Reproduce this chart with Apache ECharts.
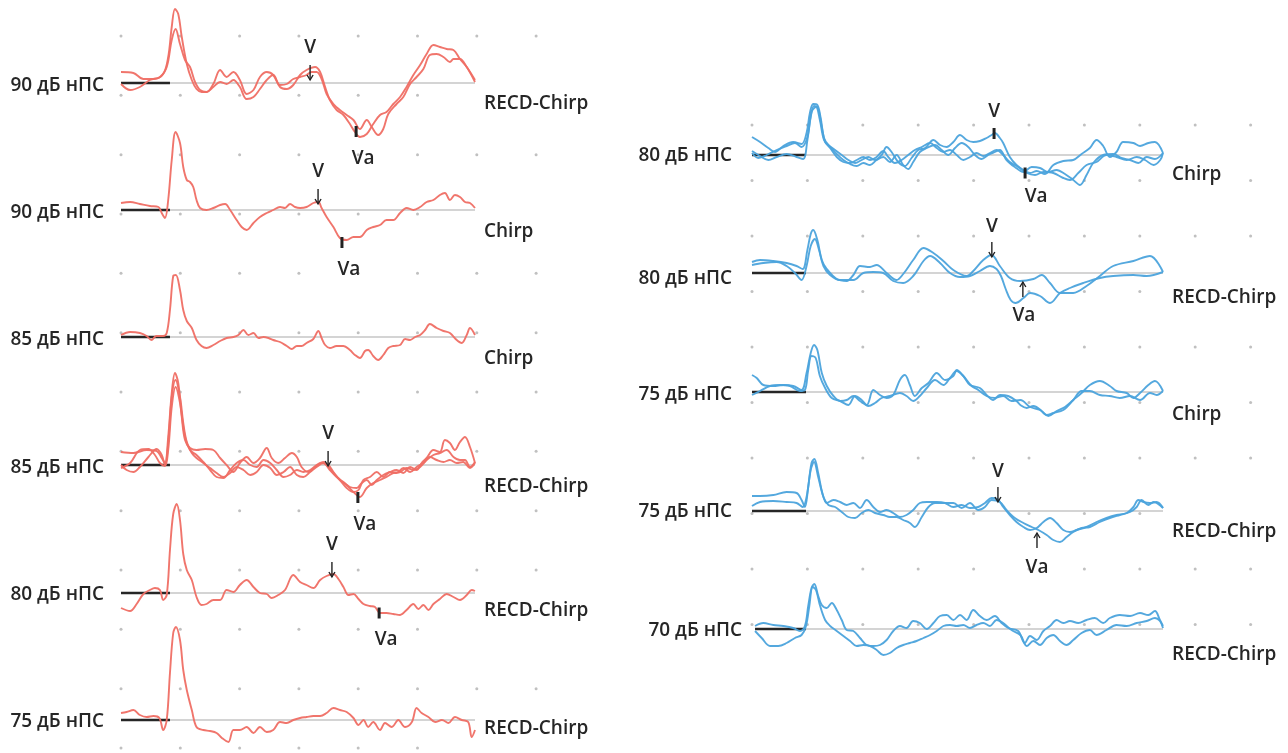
<!DOCTYPE html>
<html><head><meta charset="utf-8">
<script src="https://cdn.jsdelivr.net/npm/echarts@6/dist/echarts.min.js"></script>
<style>html,body{margin:0;padding:0;background:#fff}#c{width:1288px;height:753px}</style>
</head><body><div id="c"></div><script>
// ---------- labels ----------
const leftLevels = ['90 дБ нПС','90 дБ нПС','85 дБ нПС','85 дБ нПС','80 дБ нПС','75 дБ нПС'];
const leftStimuli = ['RECD-Chirp','Chirp','Chirp','RECD-Chirp','RECD-Chirp','RECD-Chirp'];
const rightLevels = ['80 дБ нПС','80 дБ нПС','75 дБ нПС','75 дБ нПС','70 дБ нПС'];
const rightStimuli = ['Chirp','RECD-Chirp','Chirp','RECD-Chirp','RECD-Chirp'];

// ---------- time windows (ms) ----------
const leftWindow = [0, 12.0];
const leftStimOnset = 1.66;
const rightWindow = [0, 14.84];
const rightStimOnset = 1.95;
const rightSweepStart = [0, 0, 0, 0, 0.11];

// ---------- waveforms [ms, µV] ----------
const L1a = [[0,0.11],[0.42,0.10],[0.76,0.04],[1.1,0.04],[1.43,0.09],[1.6,0.26],[1.72,0.56],[1.83,0.74],[1.94,0.69],[2.06,0.46],[2.23,0.19],[2.4,0.03],[2.56,-0.06],[2.73,-0.09],[2.9,-0.09],[3.13,-0.01],[3.36,0.13],[3.58,0.06],[3.81,0.11],[4.03,0.03],[4.26,-0.11],[4.49,-0.07],[4.71,0.06],[4.94,0.11],[5.16,0.08],[5.39,-0.04],[5.62,-0.06],[5.84,-0.02],[6.07,0.08],[6.29,0.13],[6.58,0.16],[6.75,0.11],[6.92,-0.04],[7.08,-0.17],[7.31,-0.27],[7.54,-0.32],[7.76,-0.41],[7.93,-0.49],[8.1,-0.54],[8.33,-0.51],[8.55,-0.41],[8.78,-0.32],[9.0,-0.29],[9.23,-0.21],[9.46,-0.14],[9.68,-0.04],[9.91,0.08],[10.14,0.18],[10.36,0.29],[10.59,0.38],[10.81,0.36],[11.04,0.34],[11.27,0.33],[11.49,0.24],[11.72,0.16],[12.0,0.01]];
const L1b = [[0,-0.01],[0.31,-0.07],[0.64,-0.04],[0.98,0.03],[1.32,0.06],[1.55,0.16],[1.72,0.43],[1.85,0.54],[2.0,0.39],[2.17,0.23],[2.34,0.16],[2.51,0.01],[2.68,-0.07],[2.9,-0.09],[3.13,-0.04],[3.36,0.01],[3.58,-0.01],[3.81,0.03],[4.03,-0.04],[4.26,-0.16],[4.49,-0.14],[4.71,-0.06],[4.94,0.03],[5.16,0.08],[5.39,-0.02],[5.62,-0.01],[5.84,0.04],[6.07,0.06],[6.29,0.08],[6.46,0.11],[6.63,0.11],[6.8,0.04],[6.97,-0.11],[7.2,-0.21],[7.42,-0.27],[7.65,-0.32],[7.88,-0.37],[8.1,-0.46],[8.33,-0.37],[8.5,-0.44],[8.72,-0.52],[8.89,-0.46],[9.06,-0.31],[9.34,-0.21],[9.57,-0.14],[9.8,-0.01],[10.02,0.06],[10.25,0.14],[10.47,0.28],[10.7,0.29],[10.93,0.26],[11.15,0.21],[11.27,0.24],[11.49,0.24],[11.72,0.16],[12.0,0.03]];
const L2a = [[0,0.07],[0.31,0.08],[0.64,0.06],[0.98,0.04],[1.27,0.03],[1.38,-0.03],[1.49,-0.08],[1.6,0.1],[1.72,0.5],[1.85,0.78],[2.0,0.67],[2.11,0.43],[2.23,0.3],[2.34,0.28],[2.45,0.23],[2.56,0.1],[2.68,0.02],[2.9,0],[3.13,0.02],[3.36,0.05],[3.53,0.06],[3.7,0],[3.92,-0.1],[4.09,-0.17],[4.26,-0.2],[4.49,-0.13],[4.71,-0.07],[4.94,-0.03],[5.16,0],[5.39,0.03],[5.56,0.02],[5.73,0.06],[5.9,0.03],[6.07,0.02],[6.29,0.03],[6.52,0.07],[6.69,0.08],[6.8,0.02],[6.97,-0.07],[7.2,-0.17],[7.42,-0.28],[7.65,-0.3],[7.88,-0.27],[8.1,-0.27],[8.33,-0.2],[8.55,-0.17],[8.78,-0.15],[9.0,-0.1],[9.23,-0.1],[9.46,-0.03],[9.68,0.02],[9.91,0],[10.14,0.03],[10.36,0.08],[10.59,0.1],[10.81,0.15],[10.98,0.17],[11.15,0.1],[11.32,0.15],[11.49,0.13],[11.66,0.08],[11.83,0.07],[12.0,0.02]];
const L3a = [[0,0.02],[0.31,0.05],[0.64,0.04],[0.87,0.01],[1.03,-0.03],[1.2,0.01],[1.43,0.01],[1.55,0.04],[1.66,0.27],[1.77,0.61],[1.86,0.62],[2.0,0.47],[2.11,0.27],[2.23,0.16],[2.4,0.09],[2.56,-0.03],[2.73,-0.09],[2.9,-0.11],[3.13,-0.08],[3.36,-0.04],[3.58,-0.01],[3.81,0],[3.98,0.02],[4.15,0.07],[4.32,0.02],[4.49,0.04],[4.66,-0.01],[4.83,0],[5.0,-0.01],[5.16,-0.03],[5.39,-0.05],[5.62,-0.09],[5.79,-0.12],[5.96,-0.09],[6.12,-0.09],[6.29,-0.06],[6.52,-0.02],[6.69,0.06],[6.8,-0.01],[6.92,-0.08],[7.08,-0.11],[7.31,-0.09],[7.54,-0.09],[7.76,-0.13],[7.93,-0.18],[8.1,-0.21],[8.27,-0.14],[8.38,-0.13],[8.55,-0.19],[8.72,-0.23],[8.89,-0.18],[9.06,-0.11],[9.23,-0.09],[9.46,-0.08],[9.63,-0.02],[9.8,-0.03],[9.97,0],[10.14,0.02],[10.31,0.07],[10.47,0.13],[10.7,0.09],[10.93,0.06],[11.15,0.04],[11.38,-0.03],[11.55,-0.06],[11.72,0.02],[11.83,0.09],[12.0,0.02]];
const L4a = [[0,0.13],[0.42,0.12],[0.87,0.15],[1.21,0.14],[1.38,0.07],[1.49,0.02],[1.6,0.28],[1.72,0.72],[1.83,0.92],[1.94,0.82],[2.06,0.48],[2.17,0.25],[2.34,0.17],[2.56,0.15],[2.85,0.16],[3.13,0.15],[3.36,0.07],[3.58,0],[3.81,-0.07],[4.03,0.02],[4.26,0.08],[4.49,0.02],[4.71,0.07],[4.94,0.17],[5.11,0.07],[5.33,0.02],[5.56,0.07],[5.79,0.12],[5.96,0.08],[6.12,-0.02],[6.35,-0.07],[6.58,-0.02],[6.8,0.02],[7.03,0],[7.2,-0.07],[7.42,-0.15],[7.65,-0.2],[7.88,-0.27],[8.1,-0.32],[8.33,-0.23],[8.55,-0.18],[8.78,-0.15],[9.0,-0.12],[9.23,-0.08],[9.46,-0.07],[9.68,-0.03],[9.91,-0.05],[10.14,-0.02],[10.36,0.05],[10.59,0.1],[10.81,0.12],[11.04,0.15],[11.27,0.08],[11.49,0.05],[11.66,0.05],[11.83,-0.02],[12.0,0.03]];
const L4b = [[0,0],[0.19,-0.05],[0.42,-0.07],[0.64,-0.02],[0.93,0.08],[1.21,0.16],[1.38,0.1],[1.49,0],[1.6,0.22],[1.72,0.68],[1.85,0.85],[2.0,0.68],[2.11,0.42],[2.23,0.23],[2.4,0.12],[2.56,0.07],[2.79,0.02],[3.02,-0.03],[3.24,-0.08],[3.47,-0.12],[3.7,-0.08],[3.92,-0.02],[4.15,-0.05],[4.38,-0.1],[4.6,-0.07],[4.83,0],[5.06,-0.03],[5.28,-0.1],[5.51,-0.07],[5.73,-0.02],[5.96,-0.1],[6.18,-0.12],[6.41,-0.07],[6.63,-0.02],[6.86,0.02],[7.08,-0.05],[7.31,-0.12],[7.54,-0.17],[7.76,-0.22],[7.99,-0.23],[8.16,-0.18],[8.33,-0.15],[8.5,-0.2],[8.67,-0.15],[8.89,-0.1],[9.12,-0.07],[9.34,-0.05],[9.57,-0.08],[9.8,-0.02],[10.02,-0.05],[10.19,0.02],[10.36,0.07],[10.59,0.15],[10.81,0.13],[10.98,0.25],[11.15,0.22],[11.32,0.15],[11.49,0.23],[11.66,0.28],[11.83,0.18],[12.0,0.02]];
const L4c = [[0,-0.03],[0.31,0.02],[0.64,0.15],[0.93,0.16],[1.15,0.1],[1.32,0.02],[1.49,-0.01],[1.6,0.15],[1.72,0.58],[1.85,0.78],[2.0,0.62],[2.17,0.28],[2.34,0.15],[2.56,0.1],[2.79,0.03],[3.02,-0.05],[3.24,-0.12],[3.47,-0.13],[3.7,-0.05],[3.92,0.02],[4.15,0.05],[4.38,0],[4.6,-0.02],[4.83,0.05],[5.06,0.02],[5.28,-0.05],[5.51,-0.12],[5.73,-0.1],[5.96,-0.05],[6.18,-0.07],[6.41,-0.05],[6.63,0],[6.86,0.03],[7.03,-0.02],[7.2,-0.08],[7.42,-0.15],[7.65,-0.23],[7.88,-0.27],[8.05,-0.25],[8.22,-0.15],[8.44,-0.12],[8.67,-0.07],[8.89,-0.12],[9.12,-0.07],[9.34,-0.08],[9.57,-0.03],[9.8,-0.07],[10.02,-0.02],[10.25,0.02],[10.47,0.08],[10.7,0.05],[10.93,0.03],[11.15,0.05],[11.38,0.02],[11.6,0.03],[11.83,-0.03],[12.0,0.02]];
const L5a = [[0,-0.15],[0.31,-0.18],[0.53,-0.11],[0.76,-0.01],[0.98,0.03],[1.15,0.05],[1.32,0.03],[1.43,-0.07],[1.55,-0.02],[1.66,0.43],[1.77,0.79],[1.89,0.89],[2.0,0.73],[2.11,0.39],[2.23,0.23],[2.4,0.13],[2.56,-0.04],[2.73,-0.12],[2.9,-0.11],[3.13,-0.07],[3.36,-0.07],[3.58,0.03],[3.81,0.01],[4.03,0.08],[4.26,0.13],[4.49,0.06],[4.71,0],[4.94,-0.01],[5.11,-0.05],[5.33,-0.02],[5.56,0.03],[5.84,0.18],[6.07,0.11],[6.29,0.08],[6.52,0.05],[6.75,0.13],[6.97,0.17],[7.2,0.19],[7.37,0.14],[7.54,0.06],[7.71,-0.02],[7.88,-0.01],[8.05,-0.06],[8.22,-0.11],[8.44,-0.13],[8.61,-0.14],[8.78,-0.2],[9.0,-0.2],[9.23,-0.21],[9.46,-0.22],[9.68,-0.17],[9.91,-0.11],[10.08,-0.16],[10.25,-0.12],[10.42,-0.17],[10.59,-0.11],[10.81,-0.06],[11.04,-0.01],[11.27,-0.04],[11.49,-0.07],[11.72,-0.02],[11.89,0.03],[12.0,0.02]];
const L6a = [[0,0.07],[0.19,0.08],[0.42,0.1],[0.64,0.05],[0.87,0.03],[1.1,0.04],[1.3,0.02],[1.43,-0.1],[1.55,0],[1.66,0.47],[1.77,0.87],[1.86,0.93],[2.0,0.8],[2.11,0.5],[2.23,0.3],[2.4,0.1],[2.56,-0.07],[2.79,-0.1],[3.02,-0.11],[3.24,-0.13],[3.42,-0.18],[3.64,-0.22],[3.81,-0.1],[4.03,-0.1],[4.26,-0.07],[4.49,-0.13],[4.71,-0.07],[4.94,-0.12],[5.16,-0.1],[5.39,-0.02],[5.62,-0.03],[5.84,0],[6.07,0.02],[6.29,0.03],[6.52,0.04],[6.75,0.04],[6.97,0.07],[7.2,0.12],[7.42,0.1],[7.65,0.08],[7.88,0.02],[8.05,-0.05],[8.22,0],[8.38,-0.07],[8.55,-0.02],[8.78,-0.1],[8.95,-0.03],[9.18,-0.07],[9.4,0],[9.63,-0.07],[9.86,-0.02],[10.02,0.12],[10.19,0.07],[10.42,0.03],[10.65,-0.02],[10.88,0],[11.1,-0.03],[11.32,0.03],[11.55,0],[11.77,-0.02],[11.89,-0.17],[12.0,-0.1]];

const R1a = [[0,0.18],[0.29,0.13],[0.59,0.07],[0.83,0.03],[1.13,0.09],[1.49,0.13],[1.79,0.11],[1.97,0.22],[2.09,0.42],[2.21,0.51],[2.36,0.5],[2.48,0.37],[2.6,0.17],[2.76,0.1],[3.0,0.05],[3.24,0],[3.48,-0.05],[3.72,-0.08],[3.96,-0.05],[4.2,-0.02],[4.44,-0.05],[4.68,0],[4.86,0.08],[5.04,0.03],[5.28,-0.07],[5.52,-0.11],[5.76,-0.03],[6.0,0.05],[6.25,0.07],[6.55,0.15],[6.79,0.1],[7.03,0.08],[7.27,0.13],[7.51,0.2],[7.75,0.15],[7.99,0.13],[8.23,0.14],[8.47,0.17],[8.65,0.2],[8.77,0.22],[8.95,0.17],[9.07,0.12],[9.31,-0.02],[9.55,-0.1],[9.8,-0.15],[10.04,-0.18],[10.28,-0.16],[10.58,-0.19],[10.88,-0.1],[11.24,-0.06],[11.6,-0.05],[11.9,0.01],[12.2,0.07],[12.44,0.15],[12.68,0.09],[12.92,-0.02],[13.16,0.03],[13.4,0.13],[13.77,0.12],[14.01,0.09],[14.31,0.12],[14.55,0.13],[14.84,0.02]];
const R1b = [[0,0.04],[0.29,-0.01],[0.59,-0.05],[0.89,-0.02],[1.25,0.01],[1.61,-0.02],[1.85,-0.04],[2.0,0.15],[2.12,0.38],[2.24,0.49],[2.38,0.47],[2.52,0.28],[2.64,0.13],[2.82,0.08],[3.06,0.01],[3.3,-0.05],[3.54,-0.09],[3.78,-0.11],[4.02,-0.08],[4.26,-0.1],[4.5,-0.05],[4.74,-0.02],[4.98,-0.07],[5.22,0],[5.46,-0.1],[5.64,-0.14],[5.82,-0.07],[6.06,0.03],[6.31,0.07],[6.61,0.1],[6.85,0.05],[7.09,0],[7.33,0.07],[7.57,0.12],[7.81,0.08],[8.05,0],[8.29,-0.04],[8.53,0],[8.77,0.03],[8.95,0.05],[9.19,-0.05],[9.49,-0.12],[9.8,-0.17],[10.1,-0.12],[10.4,-0.13],[10.7,-0.17],[11.0,-0.15],[11.3,-0.19],[11.6,-0.25],[11.84,-0.3],[12.08,-0.2],[12.32,-0.08],[12.68,0],[13.04,0.01],[13.34,-0.03],[13.65,-0.05],[13.95,-0.08],[14.25,-0.02],[14.55,-0.04],[14.84,0.02]];
const R1c = [[0,0.02],[0.23,-0.03],[0.53,0],[0.89,0.05],[1.25,0.09],[1.55,0.12],[1.79,0.08],[2.0,0.18],[2.15,0.43],[2.31,0.48],[2.45,0.35],[2.6,0.15],[2.82,0.07],[3.06,-0.02],[3.3,-0.07],[3.54,-0.08],[3.78,-0.05],[4.02,-0.02],[4.26,-0.05],[4.5,-0.02],[4.74,0.04],[4.92,-0.02],[5.16,-0.08],[5.4,-0.05],[5.64,0],[5.88,0.05],[6.13,0.08],[6.43,0.12],[6.67,0.07],[6.91,0.03],[7.15,0.05],[7.39,0],[7.63,-0.05],[7.87,-0.02],[8.11,0.02],[8.35,-0.01],[8.59,0.02],[8.83,0.05],[9.07,0],[9.31,-0.07],[9.61,-0.12],[9.92,-0.18],[10.22,-0.2],[10.52,-0.17],[10.88,-0.18],[11.24,-0.23],[11.48,-0.25],[11.78,-0.18],[12.08,-0.1],[12.44,-0.07],[12.8,0],[13.16,-0.02],[13.53,-0.05],[13.89,-0.02],[14.19,-0.05],[14.5,-0.1],[14.74,-0.05],[14.84,0.02]];
const R2a = [[0,0.11],[0.29,0.13],[0.77,0.12],[1.25,0.1],[1.61,0.07],[1.83,0.04],[2.0,0.23],[2.12,0.39],[2.21,0.43],[2.36,0.33],[2.52,0.13],[2.7,0.04],[3.06,-0.06],[3.42,-0.08],[3.66,-0.02],[3.9,0.07],[4.26,0.06],[4.5,0.08],[4.86,0],[5.22,-0.07],[5.46,-0.01],[5.82,0.13],[6.19,0.25],[6.55,0.2],[6.91,0.12],[7.27,0.03],[7.75,-0.03],[7.99,0.02],[8.35,0.13],[8.65,0.18],[8.95,0.07],[9.31,-0.05],[9.68,-0.08],[10.16,-0.06],[10.46,-0.02],[10.76,-0.1],[11.12,-0.2],[11.6,-0.2],[12.08,-0.13],[12.56,-0.03],[13.04,0.07],[13.77,0.12],[14.37,0.17],[14.84,0.01]];
const R2b = [[0,0.08],[0.41,0.1],[0.89,0.11],[1.25,0.07],[1.55,0],[1.79,-0.07],[1.97,0.07],[2.12,0.27],[2.27,0.34],[2.42,0.23],[2.58,0.07],[2.82,-0.02],[3.18,-0.07],[3.66,-0.07],[4.02,0],[4.38,0.01],[4.74,0],[5.1,-0.08],[5.46,-0.1],[5.82,-0.03],[6.19,0.12],[6.43,0.17],[6.79,0.1],[7.15,0],[7.51,-0.04],[7.87,-0.03],[8.23,0.02],[8.59,0.07],[8.83,0.04],[8.99,-0.03],[9.16,-0.16],[9.34,-0.27],[9.52,-0.3],[9.8,-0.25],[10.04,-0.2],[10.4,-0.23],[10.76,-0.3],[11.12,-0.2],[11.48,-0.15],[11.96,-0.1],[12.56,-0.05],[13.04,-0.03],[13.77,-0.02],[14.25,-0.03],[14.84,0.01]];
const R3a = [[0,0.17],[0.17,0.14],[0.41,0.07],[0.77,0.06],[1.13,0.07],[1.49,0.06],[1.79,0.02],[1.97,0.19],[2.12,0.39],[2.24,0.47],[2.36,0.42],[2.52,0.19],[2.7,0.06],[2.94,-0.04],[3.18,-0.09],[3.42,-0.08],[3.66,-0.04],[3.9,-0.09],[4.14,-0.13],[4.38,0.02],[4.62,-0.03],[4.86,-0.06],[5.1,-0.03],[5.34,0.12],[5.52,0.17],[5.7,0.07],[5.88,-0.04],[6.13,0.04],[6.37,0.09],[6.67,0.19],[6.97,0.12],[7.27,0.16],[7.39,0.22],[7.63,0.16],[7.87,0.07],[8.23,0.04],[8.47,-0.03],[8.71,-0.08],[8.95,-0.03],[9.25,-0.04],[9.55,-0.09],[9.69,-0.13],[9.92,-0.16],[10.16,-0.14],[10.46,-0.19],[10.7,-0.24],[11.0,-0.19],[11.3,-0.15],[11.6,-0.08],[11.9,-0.01],[12.2,0.07],[12.56,0.11],[12.92,0.06],[13.16,0.01],[13.53,-0.01],[13.77,-0.06],[14.01,-0.01],[14.31,0.07],[14.55,0.11],[14.84,0.01]];
const R3b = [[0,-0.03],[0.29,0.01],[0.65,0.06],[1.01,0.07],[1.37,0.06],[1.73,0.01],[1.91,0.02],[2.03,0.22],[2.15,0.36],[2.3,0.34],[2.45,0.16],[2.64,0.04],[2.88,-0.06],[3.18,-0.09],[3.48,-0.13],[3.72,-0.04],[3.96,-0.08],[4.2,-0.14],[4.44,-0.11],[4.68,-0.06],[4.98,-0.04],[5.34,-0.01],[5.58,-0.04],[5.82,-0.09],[6.06,-0.04],[6.31,0.04],[6.61,0.12],[6.91,0.07],[7.15,0.14],[7.39,0.21],[7.63,0.16],[7.93,0.06],[8.17,0.02],[8.47,-0.04],[8.77,-0.06],[9.07,-0.04],[9.37,-0.09],[9.69,-0.08],[10.04,-0.15],[10.4,-0.18],[10.64,-0.23],[10.88,-0.21],[11.24,-0.18],[11.6,-0.08],[11.9,0.01],[12.2,0.01],[12.56,-0.03],[12.92,-0.04],[13.28,-0.06],[13.65,-0.04],[14.01,-0.08],[14.37,-0.01],[14.61,-0.03],[14.84,0.01]];
const R4a = [[0,0.15],[0.29,0.15],[0.77,0.16],[1.25,0.19],[1.61,0.18],[1.79,0.11],[1.91,0.04],[2.03,0.24],[2.15,0.48],[2.25,0.52],[2.39,0.38],[2.54,0.18],[2.7,0.08],[2.94,0.11],[3.18,0.09],[3.42,0.06],[3.66,0.08],[3.9,0.03],[4.14,0.11],[4.38,0.04],[4.62,-0.01],[4.86,0.01],[5.1,-0.02],[5.34,-0.06],[5.58,-0.04],[5.82,0.01],[6.06,0.08],[6.31,0.09],[6.67,0.09],[6.97,0.08],[7.27,0.04],[7.57,0.06],[7.87,0.03],[8.17,0.04],[8.41,0.08],[8.65,0.13],[8.86,0.12],[9.07,0.04],[9.31,-0.04],[9.55,-0.11],[9.8,-0.16],[10.04,-0.19],[10.28,-0.17],[10.52,-0.11],[10.76,-0.07],[11.0,-0.12],[11.24,-0.19],[11.48,-0.21],[11.72,-0.19],[12.08,-0.16],[12.44,-0.11],[12.8,-0.07],[13.16,-0.04],[13.53,-0.02],[13.77,0.04],[13.95,0.11],[14.13,0.09],[14.37,0.08],[14.61,0.09],[14.84,0.03]];
const R4b = [[0,0.05],[0.29,0.09],[0.77,0.1],[1.25,0.09],[1.61,0.08],[1.83,0.04],[1.97,0.14],[2.12,0.41],[2.24,0.49],[2.39,0.34],[2.58,0.14],[2.76,0.06],[3.0,0.04],[3.24,-0.01],[3.48,-0.06],[3.72,-0.07],[3.96,-0.02],[4.2,0.01],[4.44,-0.02],[4.74,-0.04],[4.98,-0.06],[5.22,-0.06],[5.46,-0.09],[5.7,-0.12],[5.88,-0.16],[6.13,-0.06],[6.37,0.04],[6.61,0.08],[6.91,0.08],[7.27,0.08],[7.57,0.03],[7.87,0.08],[8.17,0.01],[8.41,0.04],[8.65,0.11],[8.95,0.09],[9.19,0.01],[9.49,-0.07],[9.8,-0.12],[10.1,-0.16],[10.34,-0.19],[10.64,-0.24],[10.88,-0.29],[11.12,-0.31],[11.36,-0.26],[11.6,-0.21],[11.9,-0.17],[12.2,-0.16],[12.56,-0.11],[12.92,-0.07],[13.28,-0.04],[13.65,-0.01],[13.89,0.04],[14.07,0.11],[14.31,0.06],[14.5,0.09],[14.84,0.03]];
const R5a = [[0.11,0.03],[0.41,0.06],[0.77,0.04],[1.13,0.03],[1.49,0.01],[1.73,-0.02],[1.91,0.03],[2.03,0.23],[2.15,0.41],[2.25,0.45],[2.39,0.33],[2.52,0.24],[2.7,0.21],[2.88,0.26],[3.06,0.19],[3.24,0.09],[3.42,-0.01],[3.66,-0.02],[3.9,-0.09],[4.14,-0.16],[4.38,-0.17],[4.62,-0.16],[4.86,-0.11],[5.1,-0.02],[5.34,0.03],[5.58,0.01],[5.82,0.08],[6.06,0.06],[6.31,0],[6.55,0.06],[6.79,0.13],[7.03,0.14],[7.27,0.09],[7.51,0.14],[7.75,0.09],[7.99,0.19],[8.23,0.13],[8.47,0.09],[8.77,0.13],[9.01,0.06],[9.25,0.01],[9.61,-0.02],[9.85,-0.14],[10.04,-0.07],[10.28,-0.11],[10.52,-0.02],[10.76,0.03],[11.0,0.09],[11.24,0.06],[11.48,0.08],[11.78,0.06],[12.08,0.09],[12.38,0.11],[12.68,0.06],[12.92,0.11],[13.28,0.14],[13.65,0.13],[14.01,0.16],[14.31,0.14],[14.55,0.18],[14.73,0.09],[14.84,0.03]];
const R5b = [[0.11,-0.02],[0.35,-0.09],[0.65,-0.17],[0.95,-0.17],[1.25,-0.14],[1.55,-0.09],[1.79,-0.06],[1.95,0.03],[2.07,0.23],[2.19,0.42],[2.31,0.39],[2.45,0.24],[2.64,0.09],[2.82,0.03],[3.06,-0.02],[3.3,-0.07],[3.54,-0.12],[3.78,-0.17],[4.02,-0.16],[4.26,-0.17],[4.5,-0.21],[4.74,-0.26],[4.98,-0.24],[5.22,-0.19],[5.46,-0.16],[5.7,-0.14],[5.94,-0.12],[6.19,-0.09],[6.43,-0.06],[6.67,-0.02],[6.91,0.03],[7.15,0.04],[7.39,0.03],[7.63,0.04],[7.87,0.01],[8.11,0.04],[8.35,0.06],[8.59,0.03],[8.83,0.09],[9.07,0.06],[9.37,-0.01],[9.69,-0.06],[9.92,-0.17],[10.16,-0.12],[10.4,-0.16],[10.64,-0.09],[10.88,-0.06],[11.12,-0.12],[11.36,-0.16],[11.6,-0.11],[11.9,-0.04],[12.2,-0.01],[12.44,-0.06],[12.8,-0.01],[13.16,0.04],[13.53,0.03],[13.89,0.06],[14.25,0.08],[14.55,0.11],[14.73,0.08],[14.84,0.01]];

// ---------- wave V / Va latencies [ms, µV] ----------
const leftPeaks = [
  {V:[6.41,0.03], Va:[7.97,-0.485]},
  {V:[6.68,0.06], Va:[7.49,-0.325]},
  null,
  {V:[7.02,-0.01], Va:[8.03,-0.325]},
  {V:[7.15,0.16], Va:[8.75,-0.20]},
  null
];
const rightPeaks = [
  {V:[8.74,0.215], Va:[9.86,-0.18]},
  {V:[8.66,0.16], Va:[9.78,-0.09]},
  null,
  {V:[8.88,0.09], Va:[10.29,-0.22]},
  null
];

const leftTraces = [[L1a,L1b],[L2a],[L3a],[L4a,L4b,L4c],[L5a],[L6a]];
const rightTraces = [[R1a,R1b,R1c],[R2a,R2b],[R3a,R3b],[R4a,R4b],[R5a,R5b]];

// ---------- layout / style ----------
const FONT = '"Open Sans","Noto Sans",sans-serif';
const TXT = '#262626';
const LABEL_FONT = '600 19px ' + FONT;
const TEXT_SHIFT = 2;
const RED = '#ef6e64', BLUE = '#4ba3dc';
const AMP_RANGE = [-0.3, 0.6];   // µV shown per sub-grid (1 µV = 100 px)
const LEFT = {x:121, w:354, base:[83,210,337,465,593,720], levelGap:[17,17,17,17,17,17], levelDy:[1,1,1,1,0,0], stimDy:[19,20,20,20,16,7]};
const RIGHT = {x:752, w:411, base:[155,273,392,511,629], levelGap:[20,20,20,20,13], levelDy:[-1,4,1,-1,0], stimDy:[18,23,21,19,24]};
const leftMarkStyle = {V:{kind:'down',dx:0,dy:-34}, Va:{kind:'bar',dx:7,dy:25}};
const rightMarkStyles = [
  {V:{kind:'bar',dx:0,dy:-23.5}, Va:{kind:'bar',dx:11,dy:22}},
  {V:{kind:'down',dx:0,dy:-32}, Va:{kind:'up',dx:1,dy:32}},
  null,
  {V:{kind:'down',dx:0,dy:-32}, Va:{kind:'up',dx:0,dy:33}},
  null
];

const grids=[], xAxes=[], yAxes=[], series=[];
function addGrid(left, top, width, height, xr, yr){
  const i = grids.length;
  grids.push({left, top, width, height, containLabel:false, show:false});
  xAxes.push({type:'value', gridIndex:i, min:xr[0], max:xr[1], show:false});
  yAxes.push({type:'value', gridIndex:i, min:yr[0], max:yr[1], show:false});
  return i;
}

function addDots(left, top, step, cols, rows){
  const g = addGrid(left, top, step[0]*cols, step[1]*rows, [0,cols], [0,rows]);
  const pts=[];
  for(let i=0;i<=cols;i++) for(let j=0;j<=rows;j++) pts.push([i,j]);
  series.push({type:'scatter', xAxisIndex:g, yAxisIndex:g, data:pts, symbol:'circle', symbolSize:3,
    itemStyle:{color:'#b0b0b0'}, silent:true, z:1});
}
addDots(121, 36, [59.3,59.33], 7, 12);
addDots(752, 125, [55.4,55.5], 9, 9);

function markerEls(kind, txt, p, st){
  const els=[];
  const ln = {stroke:'#222', lineWidth:1.4};
  if(kind==='down'){
    els.push({type:'line', shape:{x1:p[0],y1:p[1]-15,x2:p[0],y2:p[1]}, style:ln});
    els.push({type:'polyline', shape:{points:[[p[0]-3,p[1]-5],[p[0],p[1]],[p[0]+3,p[1]-5]]}, style:{stroke:'#222',lineWidth:1.4,fill:null}});
  } else if(kind==='up'){
    els.push({type:'line', shape:{x1:p[0],y1:p[1],x2:p[0],y2:p[1]+15}, style:ln});
    els.push({type:'polyline', shape:{points:[[p[0]-3,p[1]+5],[p[0],p[1]],[p[0]+3,p[1]+5]]}, style:{stroke:'#222',lineWidth:1.4,fill:null}});
  } else {
    els.push({type:'rect', shape:{x:p[0]-1.5,y:p[1]-5.5,width:3,height:11}, style:{fill:'#222'}});
  }
  els.push({type:'text', x:p[0]+st.dx, y:p[1]+st.dy+TEXT_SHIFT, style:{text:txt, fill:TXT, font:LABEL_FONT,
    textAlign:'center', textVerticalAlign:'middle', align:'center', verticalAlign:'middle'}});
  return els;
}

function addPanel(P, idx, traces, color, level, stim, peaks, mstyle, win, t0, stimOnset){
  const base = P.base[idx];
  const pxPerUnit = 100;
  const g = addGrid(P.x, base - AMP_RANGE[1]*pxPerUnit, P.w, (AMP_RANGE[1]-AMP_RANGE[0])*pxPerUnit, win, AMP_RANGE);
  const common = {xAxisIndex:g, yAxisIndex:g, silent:true, animation:false};
  series.push(Object.assign({type:'custom', z:2, clip:false, data:[[t0,0],[win[1],0]],
    renderItem:function(params, api){
      const p = api.coord([api.value(0), api.value(1)]);
      if(params.dataIndex===0){
        return {type:'text', x:p[0]-P.levelGap[idx], y:p[1]+P.levelDy[idx]+TEXT_SHIFT, style:{text:level, fill:TXT, font:LABEL_FONT,
          textAlign:'right', textVerticalAlign:'middle', align:'right', verticalAlign:'middle'}};
      }
      return {type:'text', x:p[0]-1, y:p[1]+P.stimDy[idx]+TEXT_SHIFT, style:{text:stim, fill:TXT, font:LABEL_FONT,
        backgroundColor:'#fff', padding:[12,10,12,10],
        textAlign:'left', textVerticalAlign:'middle', align:'left', verticalAlign:'middle'}};
    }}, common));
  series.push(Object.assign({type:'line', z:3, data:[[t0,0],[win[1],0]], symbol:'none', clip:false,
    lineStyle:{color:'#c6c6c6', width:1.5}}, common));
  series.push(Object.assign({type:'line', z:4, data:[[t0,0],[stimOnset,0]], symbol:'none', clip:false,
    lineStyle:{color:'#262626', width:2.6}}, common));
  traces.forEach(function(tr){
    series.push(Object.assign({type:'line', z:5, data:tr, symbol:'none', smooth:0.35, clip:false,
      lineStyle:{color:color, width:1.9, opacity:0.95}}, common));
  });
  if(peaks){
    const names = ['V','Va'];
    series.push(Object.assign({type:'custom', z:6, clip:false, data:[peaks.V, peaks.Va],
      renderItem:function(params, api){
        const p = api.coord([api.value(0), api.value(1)]);
        const nm = names[params.dataIndex];
        return {type:'group', children: markerEls(mstyle[nm].kind, nm, p, mstyle[nm])};
      }}, common));
  }
}

leftTraces.forEach(function(tr,i){
  addPanel(LEFT, i, tr, RED, leftLevels[i], leftStimuli[i], leftPeaks[i], leftMarkStyle, leftWindow, leftWindow[0], leftStimOnset);
});
rightTraces.forEach(function(tr,i){
  addPanel(RIGHT, i, tr, BLUE, rightLevels[i], rightStimuli[i], rightPeaks[i], rightMarkStyles[i], rightWindow, rightSweepStart[i], rightStimOnset);
});

const chart = echarts.init(document.getElementById('c'), null, {renderer:'canvas'});
chart.setOption({animation:false, backgroundColor:'#fff', grid:grids, xAxis:xAxes, yAxis:yAxes, series:series});
</script></body></html>
